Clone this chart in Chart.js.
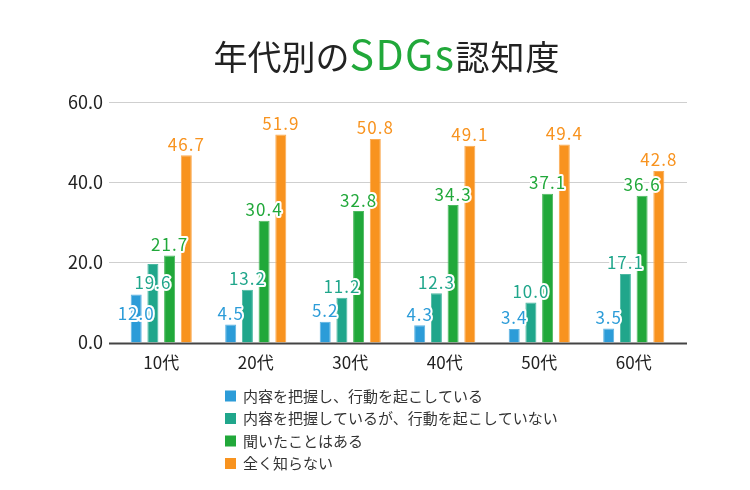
<!DOCTYPE html>
<html lang="ja">
<head>
<meta charset="utf-8">
<title>年代別のSDGs認知度</title>
<script src="https://cdn.jsdelivr.net/npm/chart.js@4.4.1/dist/chart.umd.min.js"></script>
<style>
  html, body { margin: 0; padding: 0; background: #fff; }
  #wrap { width: 750px; height: 490px; position: relative; }
</style>
</head>
<body>
<div id="wrap"><canvas id="sdgsChart" width="750" height="490"></canvas></div>
<script>
// Data
const categories = ['10代', '20代', '30代', '40代', '50代', '60代'];
const seriesNames = [
    '内容を把握し、行動を起こしている',
    '内容を把握しているが、行動を起こしていない',
    '聞いたことはある',
    '全く知らない'
];
const actingValues = [12.0, 4.5, 5.2, 4.3, 3.4, 3.5];
const awareValues = [19.6, 13.2, 11.2, 12.3, 10.0, 17.1];
const heardValues = [21.7, 30.4, 32.8, 34.3, 37.1, 36.6];
const unknownValues = [46.7, 51.9, 50.8, 49.1, 49.4, 42.8];
const yTicks = [0, 20, 40, 60];

const FONT = '"Noto Sans CJK JP", "Noto Sans", sans-serif';
const fillColors = ['#2c9cd8', '#20a68b', '#21a83a', '#f8931f'];
const edgeColors = ['#5ab2e2', '#4cb9a2', '#4dba60', '#fbab52'];

// Title with green "SDGs"
const titlePlugin = {
    id: 'mixedTitle',
    afterDraw(chart) {
        const ctx = chart.ctx;
        const parts = [
            { text: '年代別の', size: 34, color: '#222', spacing: 0 },
            { text: 'SDGs', size: 41, color: '#21a83a', spacing: 1.5 },
            { text: '認知度', size: 34, color: '#222', spacing: 1 }
        ];
        ctx.save();
        ctx.textBaseline = 'alphabetic';
        ctx.textAlign = 'left';
        let total = 0;
        parts.forEach(p => {
            ctx.font = `400 ${p.size}px ${FONT}`;
            ctx.letterSpacing = p.spacing + 'px';
            p.w = ctx.measureText(p.text).width;
            total += p.w;
        });
        let x = 387 - total / 2;
        parts.forEach(p => {
            ctx.font = `400 ${p.size}px ${FONT}`;
            ctx.letterSpacing = p.spacing + 'px';
            ctx.fillStyle = p.color;
            ctx.fillText(p.text, x, 70);
            x += p.w;
        });
        ctx.restore();
    }
};

// Grid lines wider than the bar area, plus the zero line
const gridPlugin = {
    id: 'wideGrid',
    beforeDatasetsDraw(chart) {
        const ctx = chart.ctx;
        const y = chart.scales.y;
        ctx.save();
        yTicks.forEach(t => {
            const py = Math.round(y.getPixelForValue(t)) + 0.5;
            ctx.beginPath();
            ctx.moveTo(109, py);
            ctx.lineTo(687, py);
            if (t === 0) {
                ctx.strokeStyle = '#444';
                ctx.lineWidth = 2;
            } else {
                ctx.strokeStyle = '#cfcfcf';
                ctx.lineWidth = 1;
            }
            ctx.stroke();
        });
        ctx.restore();
    }
};

// Value labels with white outline; move inside the bar when they collide
const labelPlugin = {
    id: 'valueLabels',
    afterDatasetsDraw(chart) {
        const ctx = chart.ctx;
        ctx.save();
        ctx.font = `400 17px ${FONT}`;
        ctx.letterSpacing = '1px';
        ctx.textAlign = 'center';
        ctx.textBaseline = 'middle';
        ctx.lineJoin = 'round';
        categories.forEach((c, i) => {
            const placed = [];
            for (let d = chart.data.datasets.length - 1; d >= 0; d--) {
                const bar = chart.getDatasetMeta(d).data[i];
                const value = chart.data.datasets[d].data[i];
                let y = bar.y - 11;
                if (placed.some(p => Math.abs(p.y - y) < 18 && Math.abs(p.x - bar.x) < 36)) {
                    y = bar.y + 19;
                }
                placed.push({ x: bar.x, y: y });
                const text = value.toFixed(1);
                ctx.strokeStyle = '#fff';
                ctx.lineWidth = 4;
                ctx.strokeText(text, bar.x, y);
                ctx.fillStyle = fillColors[d];
                ctx.fillText(text, bar.x, y);
            }
        });
        ctx.restore();
    }
};

// Vertical legend at the bottom
const legendPlugin = {
    id: 'listLegend',
    afterDraw(chart) {
        const ctx = chart.ctx;
        ctx.save();
        ctx.font = `400 15px ${FONT}`;
        ctx.textAlign = 'left';
        ctx.textBaseline = 'middle';
        seriesNames.forEach((name, i) => {
            const cy = 396 + i * 22.5;
            ctx.fillStyle = fillColors[i];
            ctx.fillRect(225, cy - 5.5, 11, 11);
            ctx.fillStyle = '#333';
            ctx.fillText(name, 243, cy);
        });
        ctx.restore();
    }
};

const seriesValues = [actingValues, awareValues, heardValues, unknownValues];

const ctx = document.getElementById('sdgsChart').getContext('2d');
new Chart(ctx, {
    type: 'bar',
    data: {
        labels: categories,
        datasets: seriesValues.map((vals, i) => ({
            label: seriesNames[i],
            data: vals,
            backgroundColor: fillColors[i],
            borderColor: edgeColors[i],
            borderWidth: 1,
            categoryPercentage: 0.707,
            barPercentage: 0.66
        }))
    },
    options: {
        responsive: false,
        animation: false,
        layout: {
            padding: { top: 102, bottom: 107, left: 40, right: 69 }
        },
        plugins: {
            legend: { display: false },
            title: { display: false },
            tooltip: { enabled: false }
        },
        scales: {
            x: {
                grid: { display: false, drawTicks: false },
                border: { display: false },
                ticks: {
                    color: '#222',
                    padding: 10,
                    font: { family: FONT, size: 17 }
                }
            },
            y: {
                min: 0,
                max: 60,
                grid: { display: false, drawTicks: false },
                border: { display: false },
                afterBuildTicks: s => { s.ticks = yTicks.map(v => ({ value: v })); },
                ticks: {
                    color: '#222',
                    padding: 11,
                    font: { family: FONT, size: 18 },
                    callback: v => Number(v).toFixed(1)
                },
                afterFit: s => { s.width = 74; }
            }
        }
    },
    plugins: [gridPlugin, labelPlugin, titlePlugin, legendPlugin]
});
</script>
</body>
</html>
